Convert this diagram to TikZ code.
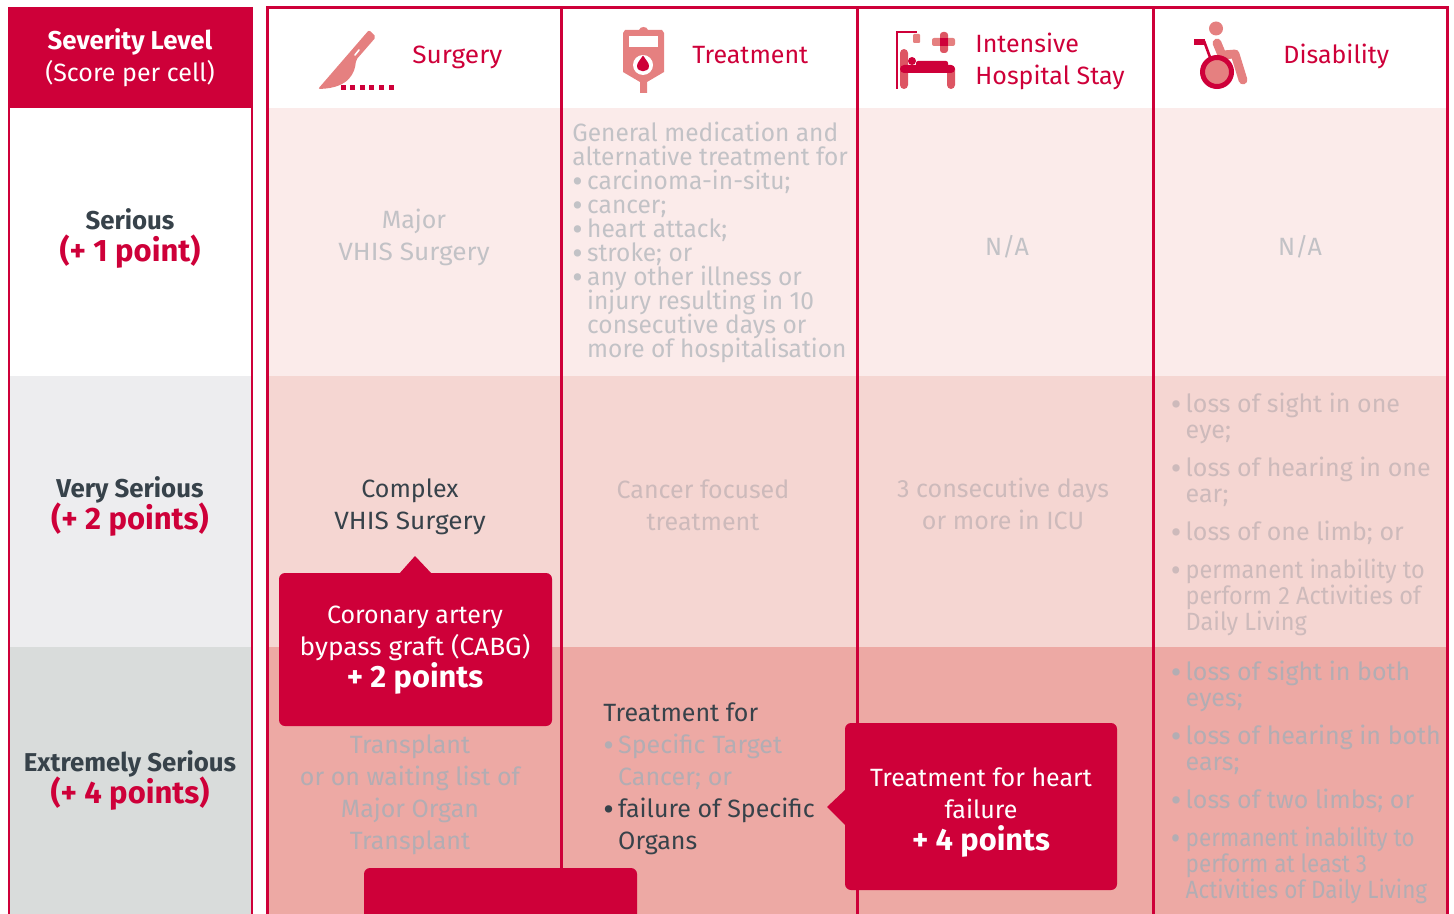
\documentclass[tikz,border=0pt]{standalone}
\usepackage{fontspec}
\setmainfont[Numbers=Lining]{Fira Sans}
\newfontfamily\widef[Numbers=Lining,FakeStretch=1.05]{Fira Sans}
\newfontfamily\nara[Numbers=Lining,FakeStretch=0.98]{Fira Sans}
\newfontfamily\narb[Numbers=Lining,FakeStretch=0.94]{Fira Sans}
\newfontfamily\narc[Numbers=Lining,FakeStretch=0.90]{Fira Sans}
\definecolor{brand}{HTML}{CE0039}
\definecolor{iconl}{HTML}{E58080}
\definecolor{iconm}{HTML}{DD5563}
\definecolor{rowa}{HTML}{FBEBEA}
\definecolor{rowb}{HTML}{F5D6D2}
\definecolor{rowc}{HTML}{EDA9A4}
\definecolor{lefta}{HTML}{EDEDEF}
\definecolor{leftb}{HTML}{D9DCDB}
\definecolor{ink}{HTML}{37424A}
\definecolor{grya}{HTML}{C2C2C6}
\definecolor{gryb}{HTML}{CDBABB}
\definecolor{gryc}{HTML}{B3ADB3}
\newcommand{\bodyf}{\fontsize{12.5}{16}\selectfont}
\newcommand{\tightf}{\lineskiplimit=-20pt\fontsize{12.5}{12}\selectfont}
\newcommand{\tightg}{\lineskiplimit=-20pt\fontsize{12.5}{13}\selectfont}
\newcommand{\sevf}{\fontsize{12.9}{16}\selectfont\bfseries}
\newcommand{\ptf}{\fontsize{15.5}{16}\selectfont\bfseries}
\newcommand{\bul}{\makebox[7.4pt][l]{\raisebox{-1.6pt}[0pt][0pt]{\scalebox{1.3}{•}}}}
\newcommand{\ind}{\hspace*{7.4pt}}
\tikzset{
  txt/.style={inner sep=0pt,font=\bodyf,align=center,anchor=center,yshift=-1pt},
  ltxt/.style={inner sep=0pt,font=\bodyf,align=left,anchor=west,yshift=-1pt},
  rule/.style={draw=brand,line width=1.5pt},
  thinrule/.style={draw=brand,line width=1pt},
  callout/.style={fill=brand,rounded corners=3pt},
  pts/.style={font=\fontsize{15.4}{16}\selectfont\bfseries}
}
\begin{document}
\begin{tikzpicture}[x=0.5pt,y=-0.5pt]
\useasboundingbox (0,0) rectangle (1454,914);
\clip (0,0) rectangle (1454,914);
% left column
\fill[lefta] (9,376) rectangle (252,647);
\fill[leftb] (9,647) rectangle (252,914);
\fill[brand] (8,7) rectangle (253,108);
\draw[thinrule] (9,7) -- (9,914) (252,7) -- (252,914);
% table backgrounds
\fill[rowa] (267,108) rectangle (1447,376);
\fill[rowb] (267,376) rectangle (1447,647);
\fill[rowc] (267,647) rectangle (1447,914);
\draw[rule] (267,914) -- (267,8) -- (1447,8) -- (1447,914);
\draw[rule] (561,8) -- (561,914) (857,8) -- (857,914) (1153,8) -- (1153,914);
% left column text
\node[txt,text=white] (sevh) at (130,40) {\sevf Severity Level};
\node[txt,text=white] (sevs) at (130,72) {(Score per cell)};
\node[txt,text=ink] (sa) at (130,217) {\sevf Serious};
\node[txt,text=brand] (sb) at (130,250) {\ptf (+ 1 point)};
\node[txt,text=ink] (va) at (130,488) {\sevf Very Serious};
\node[txt,text=brand] (vb) at (130,518) {\ptf (+ 2 points)};
\node[txt,text=ink] (ea) at (130,762) {\sevf Extremely Serious};
\node[txt,text=brand] (eb) at (130,792) {\ptf (+ 4 points)};
% header labels
\node[txt,text=brand,anchor=west] (h1) at (412,55) {\widef Surgery};
\node[txt,text=brand,anchor=west] (h2) at (692,53) {Treatment};
\node[ltxt,text=brand] (h3) at (975,59) {Intensive\\Hospital Stay};
\node[txt,text=brand,anchor=west] (h4) at (1283,54) {Disability};
% scalpel
\fill[iconl,rounded corners=1pt] (369,30) -- (376,37) -- (356,60) .. controls (355,72) and (350,88) .. (318,89) -- cycle;
\draw[white,line width=0.8pt,line cap=round] (355,55) -- (359,50);
\foreach \i in {0,...,5} \fill[brand] ({340.5+\i*9.6},85.5) rectangle ({345.5+\i*9.6},90);
% blood bag
\fill[iconl] (640,82) -- (640,93) -- (647,93) -- (647,82) -- (664,72) -- (664,33) -- (662,30) -- (648,30) .. controls (647,26) and (640,26) .. (639,30) -- (625,30) -- (623,33) -- (623,72) -- cycle;
\fill[white] (629,36) rectangle (658,47);
\fill[white] (643,65) circle [radius=10];
\fill[brand] (643,55.5) .. controls (646,60) and (649,63) .. (649,66) .. controls (649,73) and (637,73) .. (637,66) .. controls (637,63) and (640,60) .. (643,55.5) -- cycle;
% bed
\draw[brand,line width=1pt] (897,89) -- (897,32) -- (917,32);
\fill[iconl,rounded corners=0.5pt] (913,34) rectangle (920,43);
\fill[iconl,rounded corners=1pt] (932,38) rectangle (955,46);
\fill[iconm,rounded corners=1.5pt] (940,32) rectangle (948,53);
\fill[brand] (940,38) rectangle (948,46);
\fill[iconm,rounded corners=2pt] (900,49) rectangle (908,89);
\fill[iconm,rounded corners=2pt] (947,65) rectangle (955,89);
\fill[brand,rounded corners=2pt] (900,65) rectangle (955,73);
\fill[brand,rounded corners=1pt] (916,61) rectangle (948,67);
\fill[brand] (912,61) circle [radius=4];
% wheelchair
\fill[iconl] (1216,28.5) circle [radius=7];
\draw[iconl,line width=4.4pt,line cap=round,line join=round] (1217,43) -- (1222,55) -- (1235,54) -- (1243,80);
\fill[iconl] (1217,72) circle [radius=14];
\fill[brand] (1194,39) rectangle (1205,45);
\draw[brand,line width=1.3pt] (1204,41) -- (1211,60);
\draw[brand,line width=2.5pt] (1217,72) circle [radius=14.5];
% body cells
\node[txt,text=grya] (c11) at (414,235) {Major\\{\widef VHIS Surgery}};
\node[ltxt,text=grya,font=\tightf\nara] (c12) at (572,240) {General medication and\\alternative treatment for\\\bul carcinoma-in-situ;\\\bul cancer;\\\bul heart attack;\\\bul stroke; or\\\bul any other illness or\\\ind injury resulting in 10\\\ind consecutive days or\\\ind more of hospitalisation};
\node[txt,text=grya] (c13) at (1007,245) {N/A};
\node[txt,text=grya] (c14) at (1300,245) {N/A};
\node[txt,text=ink] (c21) at (410,505) {Complex\\{\widef VHIS Surgery}};
\node[txt,text=gryb] (c22) at (703,503) {Cancer focused\\treatment};
\node[txt,text=gryb] (c23) at (1003,502) {3 consecutive days\\or more in ICU};
\node[ltxt,text=gryb,font=\tightg] (d1) at (1170.5,416) {\bul loss of sight in one\\\ind eye;};
\node[ltxt,text=gryb,font=\tightg] (d2) at (1170.5,480) {\bul loss of hearing in one\\\ind ear;};
\node[ltxt,text=gryb] (d3) at (1170.5,531) {\bul loss of one limb; or};
\node[ltxt,text=gryb,font=\tightg\narb] (d4) at (1170.5,595) {\bul permanent inability to\\\ind perform 2 Activities of\\\ind Daily Living};
\node[txt,text=gryc] (c31) at (410,793) {Transplant\\or on waiting list of\\Major Organ\\Transplant};
\node[ltxt,text=ink] (c32a) at (603,710) {Treatment for};
\node[ltxt,text=gryc] (c32b) at (603,760) {\bul Specific Target\\\ind Cancer; or};
\node[ltxt,text=ink] (c32c) at (603,824) {\bul failure of Specific\\\ind Organs};
\node[ltxt,text=gryc,font=\tightg] (e1) at (1170.5,684.5) {\bul loss of sight in both\\\ind eyes;};
\node[ltxt,text=gryc,font=\tightg] (e2) at (1170.5,748) {\bul loss of hearing in both\\\ind ears;};
\node[ltxt,text=gryc] (e3) at (1170.5,799) {\bul loss of two limbs; or};
\node[ltxt,text=gryc,font=\tightg\narc] (e4) at (1170.5,863) {\bul permanent inability to\\\ind perform at least 3\\\ind Activities of Daily Living};
% callouts
\fill[brand] (399,574) -- (415,556) -- (432,574) -- cycle;
\fill[callout] (279,573) rectangle (552,726);
\node[txt,text=white] (k1) at (415,631) {Coronary artery\\{\widef bypass graft (CABG)}};
\node[txt,text=white,pts] (k1p) at (415,676) {+ 2 points};
\fill[brand] (846,789) -- (827,807) -- (846,826) -- cycle;
\fill[callout] (845,723) rectangle (1117,890);
\node[txt,text=white] (k2) at (981,791) {Treatment for heart\\failure};
\node[txt,text=white,pts] (k2p) at (981,839) {+ 4 points};
\fill[callout] (364,868) rectangle (637,940);
\end{tikzpicture}
\end{document}
